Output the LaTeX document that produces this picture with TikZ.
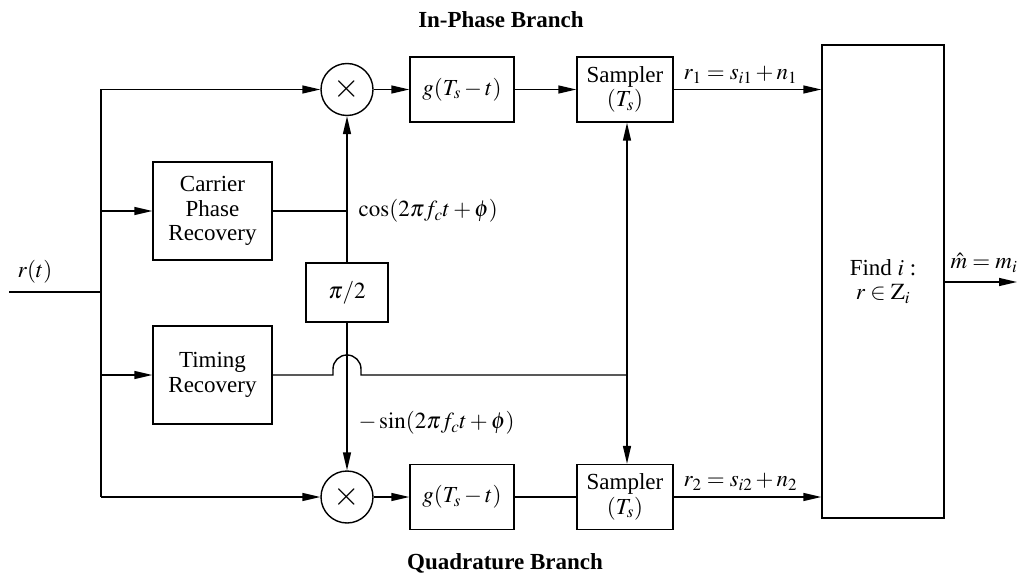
\documentclass[tikz,border=0pt]{standalone}
\usepackage{mathptmx}
\usepackage{fontspec}
\setmainfont{Liberation Serif}
\usetikzlibrary{arrows.meta}
\tikzset{
  arr/.style={-{Triangle[length=18pt,width=8pt]}},
  blk/.style={draw,line width=1.4pt,rectangle,inner sep=0pt,align=center},
  mult/.style={draw,line width=1.4pt,circle,minimum size=52pt,inner sep=0pt,font=\fontsize{34}{34}\selectfont},
  lbl/.style={inner sep=0pt}
}
\begin{document}
\begin{tikzpicture}[x=1pt,y=-1pt,line width=1.4pt,font=\fontsize{23}{24.5}\selectfont]
\useasboundingbox (0,0) rectangle (1031,575);
% blocks
\node[mult] (m1) at (347,89.5) {$\times$};
\node[mult] (m2) at (347,497) {$\times$};
\node[blk,minimum width=119pt,minimum height=98pt] (car) at (212.5,211) {Carrier\\Phase\\Recovery};
\node[blk,minimum width=119pt,minimum height=98pt] (tim) at (212.5,375) {Timing\\Recovery};
\node[blk,minimum width=82pt,minimum height=59pt] (pi) at (347,292.5) {$\pi/2$};
\node[blk,minimum width=104pt,minimum height=65pt] (g1) at (462,89.5) {$g(T_s-t)$};
\node[blk,minimum width=104pt,minimum height=65pt] (g2) at (462,497) {$g(T_s-t)$};
\node[blk,minimum width=96pt,minimum height=65pt] (s1) at (625,89.5) {Sampler\\$(T_s)$};
\node[blk,minimum width=96pt,minimum height=65pt] (s2) at (625,497) {Sampler\\$(T_s)$};
\node[blk,minimum width=122pt,minimum height=473pt] (find) at (883,281.5) {Find $i$ :\\$r\in \mathrm{Z}_i$};
% coordinates
\coordinate (in) at (9,292);
\coordinate (sp) at (101,292);
\coordinate (top) at (101,89.5);
\coordinate (bot) at (101,497);
\coordinate (tj) at (627,375);
\coordinate (out) at (1017,282);
% input distribution
\draw (in) -- (sp);
\draw (top) -- (bot);
\draw[arr] (top) -- (m1);
\draw[arr] (bot) -- (m2);
\draw[arr] (sp |- car) -- (car);
\draw[arr] (sp |- tim) -- (tim);
% carrier & phase shift
\draw (car) -- (car -| m1);
\draw[arr] (pi.north) -- (m1.south);
\draw[arr] (pi.south) -- (m2.north);
% timing with hop
\draw (tim.east) -- (333,375) -- ++(0pt,6pt) arc[start angle=180,end angle=0,radius=14pt] -- ++(0pt,-6pt) -- (tj);
\draw[arr] (tj) -- (tj |- s1.south);
\draw[arr] (tj) -- (tj |- s2.north);
% in-phase branch
\draw[arr] (m1) -- (g1);
\draw[arr] (g1) -- (s1);
\draw[arr] (s1) -- (s1 -| find.west);
% quadrature branch
\draw[arr] (m2) -- (g2);
\draw (g2) -- (s2);
\draw[arr] (s2) -- (s2 -| find.west);
% output
\draw[arr] (find.east |- out) -- (out);
% labels
\node[lbl] (lr) at (35,272) {$r(t)$};
\node[lbl,anchor=west] (lcos) at (358,211) {$\cos(2\pi f_c t+\phi)$};
\node[lbl,anchor=west] (lsin) at (358,423) {$-\sin(2\pi f_c t+\phi)$};
\node[lbl,anchor=west] (lr1) at (683,75) {$r_1=s_{i1}+n_1$};
\node[lbl,anchor=west] (lr2) at (683,482) {$r_2=s_{i2}+n_2$};
\node[lbl,anchor=west] (lm) at (950,263) {$\hat{m}=m_i$};
\node[lbl] (tin) at (501,20) {\bfseries In-Phase Branch};
\node[lbl] (tq) at (505,563) {\bfseries Quadrature Branch};
\end{tikzpicture}
\end{document}
